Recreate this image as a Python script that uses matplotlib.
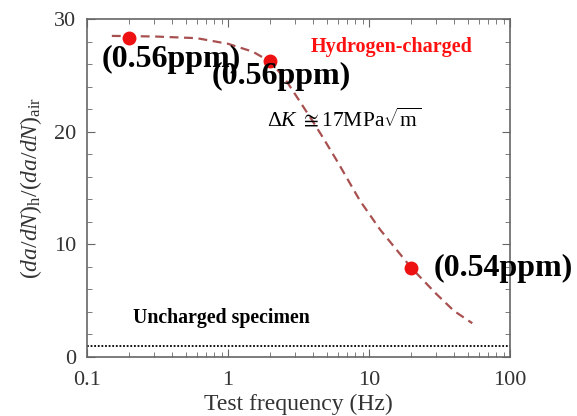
import numpy as np
import matplotlib.pyplot as plt
from matplotlib.ticker import MultipleLocator, LogLocator, NullFormatter, FixedLocator, FixedFormatter

plt.rcParams['font.family'] = ['Liberation Serif', 'DejaVu Serif']
plt.rcParams['mathtext.fontset'] = 'custom'
plt.rcParams['mathtext.rm'] = 'Liberation Serif'
plt.rcParams['mathtext.it'] = 'Liberation Serif:italic'

# measured points (hydrogen-charged)
freq_pts = [0.2, 2.0, 20.0]
ratio_pts = [28.3, 26.3, 7.9]
labels = ['(0.56ppm)', '(0.56ppm)', '(0.54ppm)']

# trend curve
freq_fit = [0.15, 0.3, 0.6, 1.0, 1.5, 2.0, 2.5, 3.0, 4.0, 4.7, 6.0, 8.6, 12.0, 20.0, 30.0, 40.0, 54.0]
ratio_fit = [28.5, 28.45, 28.3, 27.8, 27.1, 26.2, 24.8, 23.3, 20.9, 19.5, 17.3, 13.9, 11.3, 7.9, 5.6, 4.1, 3.0]

uncharged = 1.0

fig = plt.figure(figsize=(5.77, 4.16), dpi=100)
ax = fig.add_axes([0.1508, 0.1418, 0.7331, 0.8125])

ax.plot(freq_fit, ratio_fit, ls=(0, (4, 2.5)), color='#a8504f', lw=1.6)
ax.plot(freq_pts, ratio_pts, 'o', color='#ee1111', ms=9, zorder=3)
ax.axhline(uncharged, color='black', ls=(0, (1, 1)), lw=1.3)

ax.set_xscale('log')
ax.set_xlim(0.1, 100)
ax.set_ylim(0, 30)

ax.xaxis.set_major_locator(FixedLocator([0.1, 1, 10, 100]))
ax.xaxis.set_major_formatter(FixedFormatter(['0.1', '1', '10', '100']))
ax.xaxis.set_minor_locator(LogLocator(base=10, subs=np.arange(2, 10)))
ax.xaxis.set_minor_formatter(NullFormatter())
ax.yaxis.set_major_locator(MultipleLocator(10))
ax.yaxis.set_minor_locator(MultipleLocator(2))

gray = '#666666'
for s in ax.spines.values():
    s.set_color(gray)
    s.set_linewidth(1.2)
ax.tick_params(which='both', direction='in', top=True, right=True, colors=gray,
               labelcolor='#333333', labelsize=16)
ax.tick_params(which='major', length=6)
ax.tick_params(which='minor', length=3.5)
ax.tick_params(axis='x', pad=10)
ax.tick_params(axis='y', pad=8)

ax.set_xlabel('Test frequency (Hz)', fontsize=17, color='#333333', labelpad=3)
ax.set_ylabel(r'$(da/dN)_{\rm h}/(da/dN)_{\rm air}$', fontsize=17, color='#333333', labelpad=7)

# point labels
offsets = [(-20, -15), (-42, -11), (16, 0)]
for x, y, t, (dx, dy) in zip(freq_pts, ratio_pts, labels, offsets):
    ax.annotate(t, (x, y), xytext=(dx, dy), textcoords='offset points',
                fontsize=23, fontweight='bold', color='black', va='center', ha='left',
                annotation_clip=False)

ax.text(0.721, 0.917, 'Hydrogen-charged', transform=ax.transAxes, color='#ff1111',
        fontsize=14.5, fontweight='bold', ha='center', va='center')
ax.text(0.425, 0.70, r'$\Delta K$ $\cong$17MPa$\sqrt{\rm m}$', transform=ax.transAxes,
        fontsize=15.5, ha='left', va='center')
ax.text(0.108, 0.115, 'Uncharged specimen', transform=ax.transAxes,
        fontsize=14.3, fontweight='bold', ha='left', va='center')

fig.savefig('out.png', dpi=100)
